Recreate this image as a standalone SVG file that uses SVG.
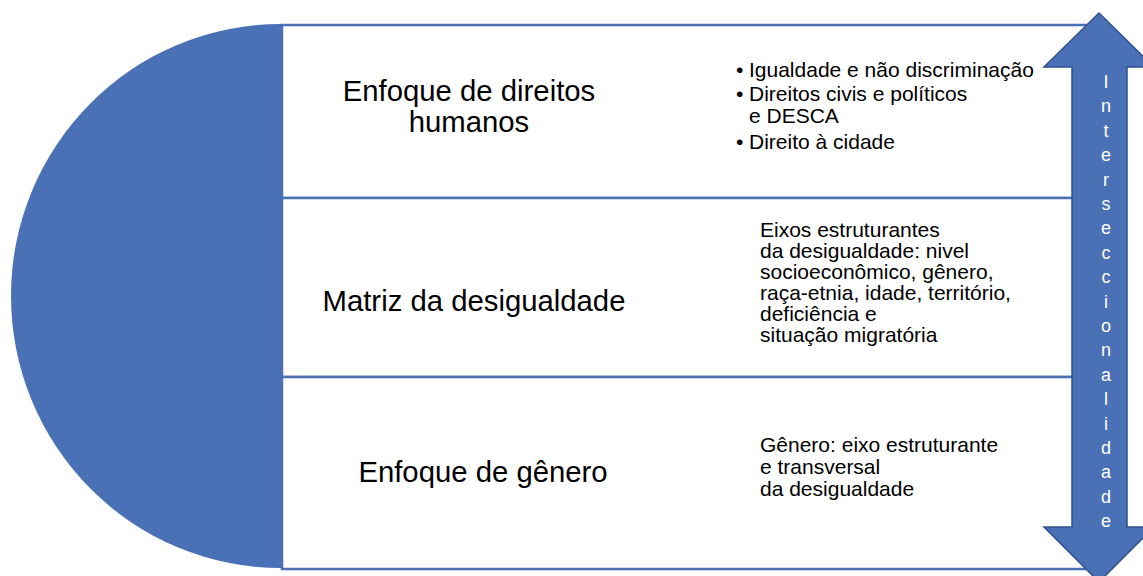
<svg xmlns="http://www.w3.org/2000/svg" width="1143" height="576" viewBox="0 0 1143 576">
<style>
.blue{fill:#4A70B5}
.box{fill:#FFFFFF;stroke:#4A70B5;stroke-width:2.5}
.big{font-family:"Liberation Sans",Arial,sans-serif;font-size:29.3px;fill:#000;text-anchor:middle}
.small{font-family:"Liberation Sans",Arial,sans-serif;font-size:21px;fill:#000}
.vert{font-family:"Liberation Sans",Arial,sans-serif;font-size:18px;fill:#FFFFFF;text-anchor:middle}
</style>
<rect width="1143" height="576" fill="#FFFFFF"/>
<g id="half-circle">
<path class="blue" d="M281,24 A270,272 0 0 0 281,568 Z"/>
</g>
<g id="node-direitos-humanos">
<rect class="box" x="282" y="25" width="805" height="173"/>
<text class="big" x="469" y="101">Enfoque de direitos</text>
<text class="big" x="469" y="132">humanos</text>
<text class="small" x="736" y="77">•</text>
<text class="small" x="749" y="77">Igualdade e não discriminação</text>
<text class="small" x="736" y="101">•</text>
<text class="small" x="749" y="101">Direitos civis e políticos</text>
<text class="small" x="749" y="123">e DESCA</text>
<text class="small" x="736" y="149">•</text>
<text class="small" x="749" y="149">Direito à cidade</text>
</g>
<g id="node-matriz">
<rect class="box" x="282" y="198" width="805" height="179"/>
<text class="big" x="474" y="311">Matriz da desigualdade</text>
<text class="small" x="760" y="237">Eixos estruturantes</text>
<text class="small" x="760" y="258">da desigualdade: nivel</text>
<text class="small" x="760" y="279">socioeconômico, gênero,</text>
<text class="small" x="760" y="300">raça-etnia, idade, território,</text>
<text class="small" x="760" y="321">deficiência e</text>
<text class="small" x="760" y="342">situação migratória</text>
</g>
<g id="node-genero">
<rect class="box" x="282" y="377" width="805" height="192"/>
<text class="big" x="483" y="482">Enfoque de gênero</text>
<text class="small" x="760" y="452">Gênero: eixo estruturante</text>
<text class="small" x="760" y="474">e transversal</text>
<text class="small" x="760" y="496">da desigualdade</text>
</g>
<g id="connectors">
<g id="arrow-interseccionalidade">
<polygon points="1099,13 1154,67 1127,67 1127,527 1154,527 1099,582 1044,527 1072,527 1072,67 1044,67" fill="#4A70B5" stroke="#2F528F" stroke-width="1.5"/>
<text class="vert" x="1106"><tspan x="1106" y="88">I</tspan><tspan x="1106" y="112.4">n</tspan><tspan x="1106" y="136.8">t</tspan><tspan x="1106" y="161.2">e</tspan><tspan x="1106" y="185.6">r</tspan><tspan x="1106" y="210">s</tspan><tspan x="1106" y="234.4">e</tspan><tspan x="1106" y="258.8">c</tspan><tspan x="1106" y="283.2">c</tspan><tspan x="1106" y="307.6">i</tspan><tspan x="1106" y="332">o</tspan><tspan x="1106" y="356.4">n</tspan><tspan x="1106" y="380.8">a</tspan><tspan x="1106" y="405.2">l</tspan><tspan x="1106" y="429.6">i</tspan><tspan x="1106" y="454">d</tspan><tspan x="1106" y="478.4">a</tspan><tspan x="1106" y="502.8">d</tspan><tspan x="1106" y="527.2">e</tspan></text>
</g>
</g>
</svg>
